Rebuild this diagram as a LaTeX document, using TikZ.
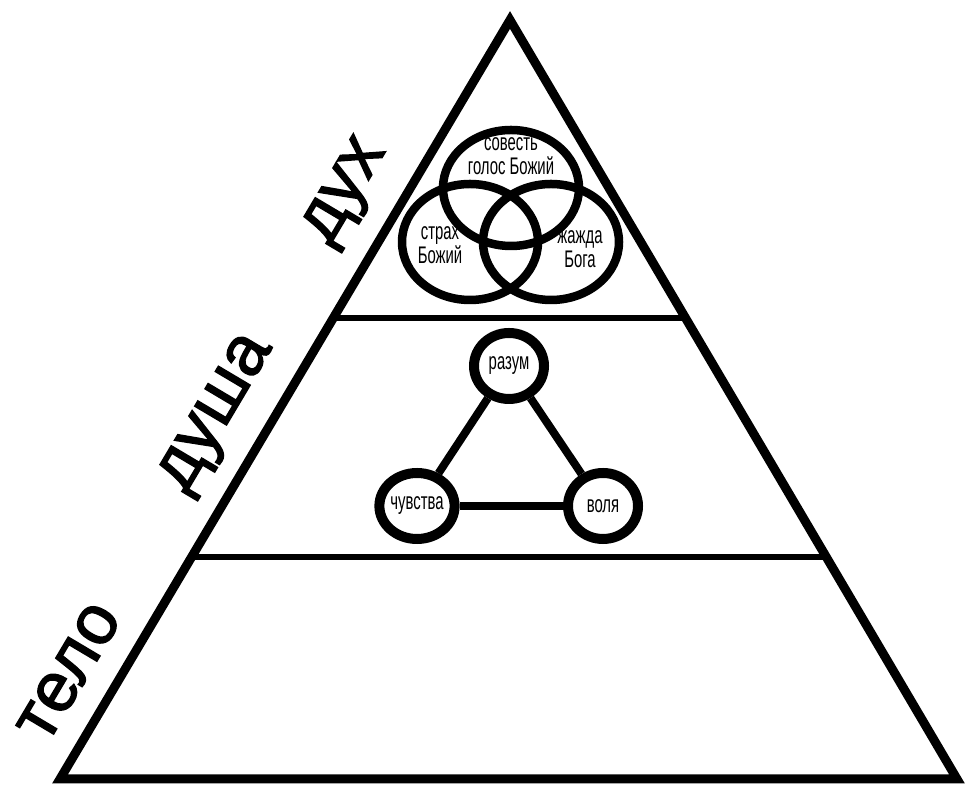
\documentclass[tikz,border=0pt]{standalone}
\usepackage{fontspec}
\setmainfont{Liberation Sans}
\newfontfamily\uzkiy{Liberation Sans}[FakeStretch=0.62]
\newfontfamily\krupnyy{Liberation Sans}[FakeBold=2]
\usetikzlibrary{positioning,calc,shapes.geometric}

\begin{document}
\begin{tikzpicture}[x=1pt, y=1pt,
    krug/.style={ellipse, draw, line width=10pt, minimum width=70pt, minimum height=66pt, inner sep=0pt, font=\uzkiy\fontsize{24}{26}\selectfont},
    svyaz/.style={line width=8pt},
    nadpis/.style={align=center, font=\uzkiy\fontsize{24}{24}\selectfont},
    sloy/.style={rotate=59.3, font=\krupnyy\fontsize{70}{74}\selectfont}]
    \useasboundingbox (0,0) rectangle (966,789);

    % Пирамида
    \coordinate (L) at (60,10);
    \coordinate (R) at (957,10);
    \coordinate (A) at (510,769);
    \draw[line width=9pt, line join=miter] (L) -- (A) -- (R) -- cycle;
    \draw[line width=6pt] ($(L)!0.2925!(A)$) -- ($(R)!0.2925!(A)$);
    \draw[line width=6pt] ($(L)!0.607!(A)$) -- ($(R)!0.607!(A)$);

    % Названия слоёв
    \node[sloy] (dukh) at (348,596) {дух};
    \node[sloy] (dusha) at (219,374) {душа};
    \node[sloy] (telo) at (69,117) {тело};

    % Дух: три круга
    \draw[line width=8.5pt] (511,601) ellipse [x radius=68, y radius=58];
    \draw[line width=8.5pt] (470,547) ellipse [x radius=68, y radius=58];
    \draw[line width=8.5pt] (551,547) ellipse [x radius=68, y radius=58];
    \node[nadpis] (sovest) at (511,633) {совесть\\голос Божий};
    \node[nadpis] (strakh) at (440,544) {страх\\Божий};
    \node[nadpis] (zhazhda) at (580,540) {жажда\\Бога};

    % Душа: разум, чувства, воля
    \node[krug] (razum) at (509,423) {разум};
    \node[krug] (chuvstva) at (417,283) {чувства};
    \node[krug] (volya) at (603,283) {воля};
    \draw[svyaz] (razum) -- (chuvstva);
    \draw[svyaz] (razum) -- (volya);
    \draw[svyaz] (chuvstva) -- (volya);
\end{tikzpicture}
\end{document}
